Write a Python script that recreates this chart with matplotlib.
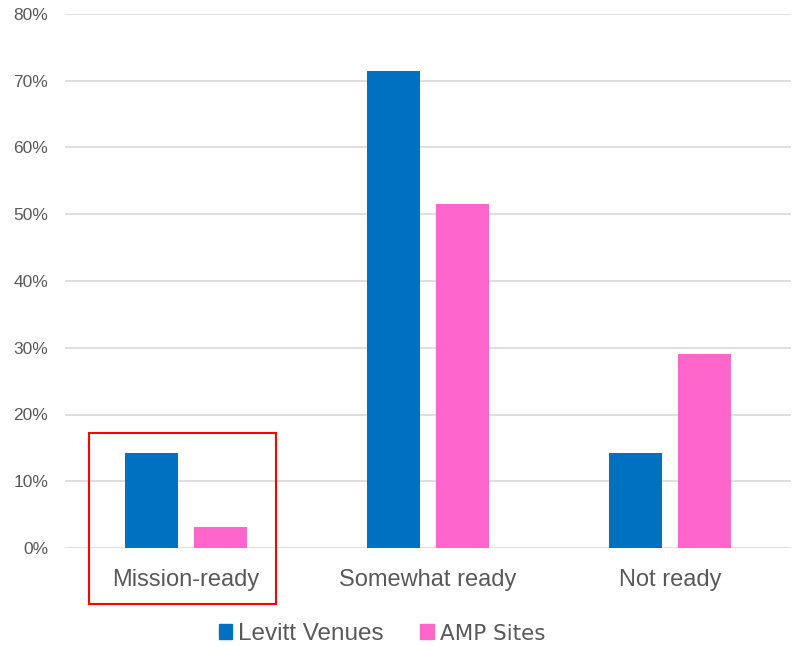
import matplotlib
matplotlib.use("Agg")
import matplotlib.pyplot as plt
import numpy as np
from matplotlib.patches import Rectangle, Patch

categories = ["Mission-ready", "Somewhat ready", "Not ready"]
levitt = [14.3, 71.4, 14.3]
amp = [3.2, 51.6, 29.0]
series_names = ["Levitt Venues", "AMP Sites"]
yticks = [0, 10, 20, 30, 40, 50, 60, 70, 80]

plt.rcParams['font.family'] = ['Liberation Sans', 'DejaVu Sans']

fig = plt.figure(figsize=(7.92, 6.46), dpi=100)
W, H = 792, 646
ax = fig.add_axes([65 / W, (H - 548) / H, 726 / W, 534 / H])

x = np.arange(len(categories))
bw = 0.223
off = 0.1426
blue = "#0070C0"
pink = "#FF66CC"
ax.bar(x - off, levitt, width=bw, color=blue, zorder=3)
ax.bar(x + off, amp, width=bw, color=pink, zorder=3)

ax.set_xlim(-0.5, 2.5)
ax.set_ylim(0, 80)
ax.set_yticks(yticks)
ax.set_yticklabels([f"{v}%" for v in yticks], fontsize=12.5, color="#595959")
ax.yaxis.grid(True, color="#D9D9D9", linewidth=1.2, zorder=0)
ax.tick_params(axis='y', length=0, pad=12)
ax.tick_params(axis='x', length=0, pad=15)
ax.set_xticks(x)
ax.set_xticklabels(categories, fontsize=17, color="#595959")
for s in ax.spines.values():
    s.set_visible(False)

# red highlight box around first category
rect = Rectangle((-0.4008, -8.4), 0.7727, 25.6, fill=False, edgecolor="#FF0000",
                 linewidth=1.5, clip_on=False, zorder=5)
ax.add_patch(rect)

handles = [Patch(color=blue), Patch(color=pink)]
leg = fig.legend(handles, series_names, loc="center", bbox_to_anchor=(382 / W, (H - 634) / H),
                 ncol=2, frameon=False, fontsize=17.5, handlelength=0.55, handleheight=0.55,
                 handletextpad=0.25, columnspacing=1.5)
for t in leg.get_texts():
    t.set_color("#595959")
leg.get_texts()[1].set_family(['DejaVu Sans'])
leg.get_texts()[1].set_fontsize(15.5)

fig.savefig("out.png", dpi=100)
